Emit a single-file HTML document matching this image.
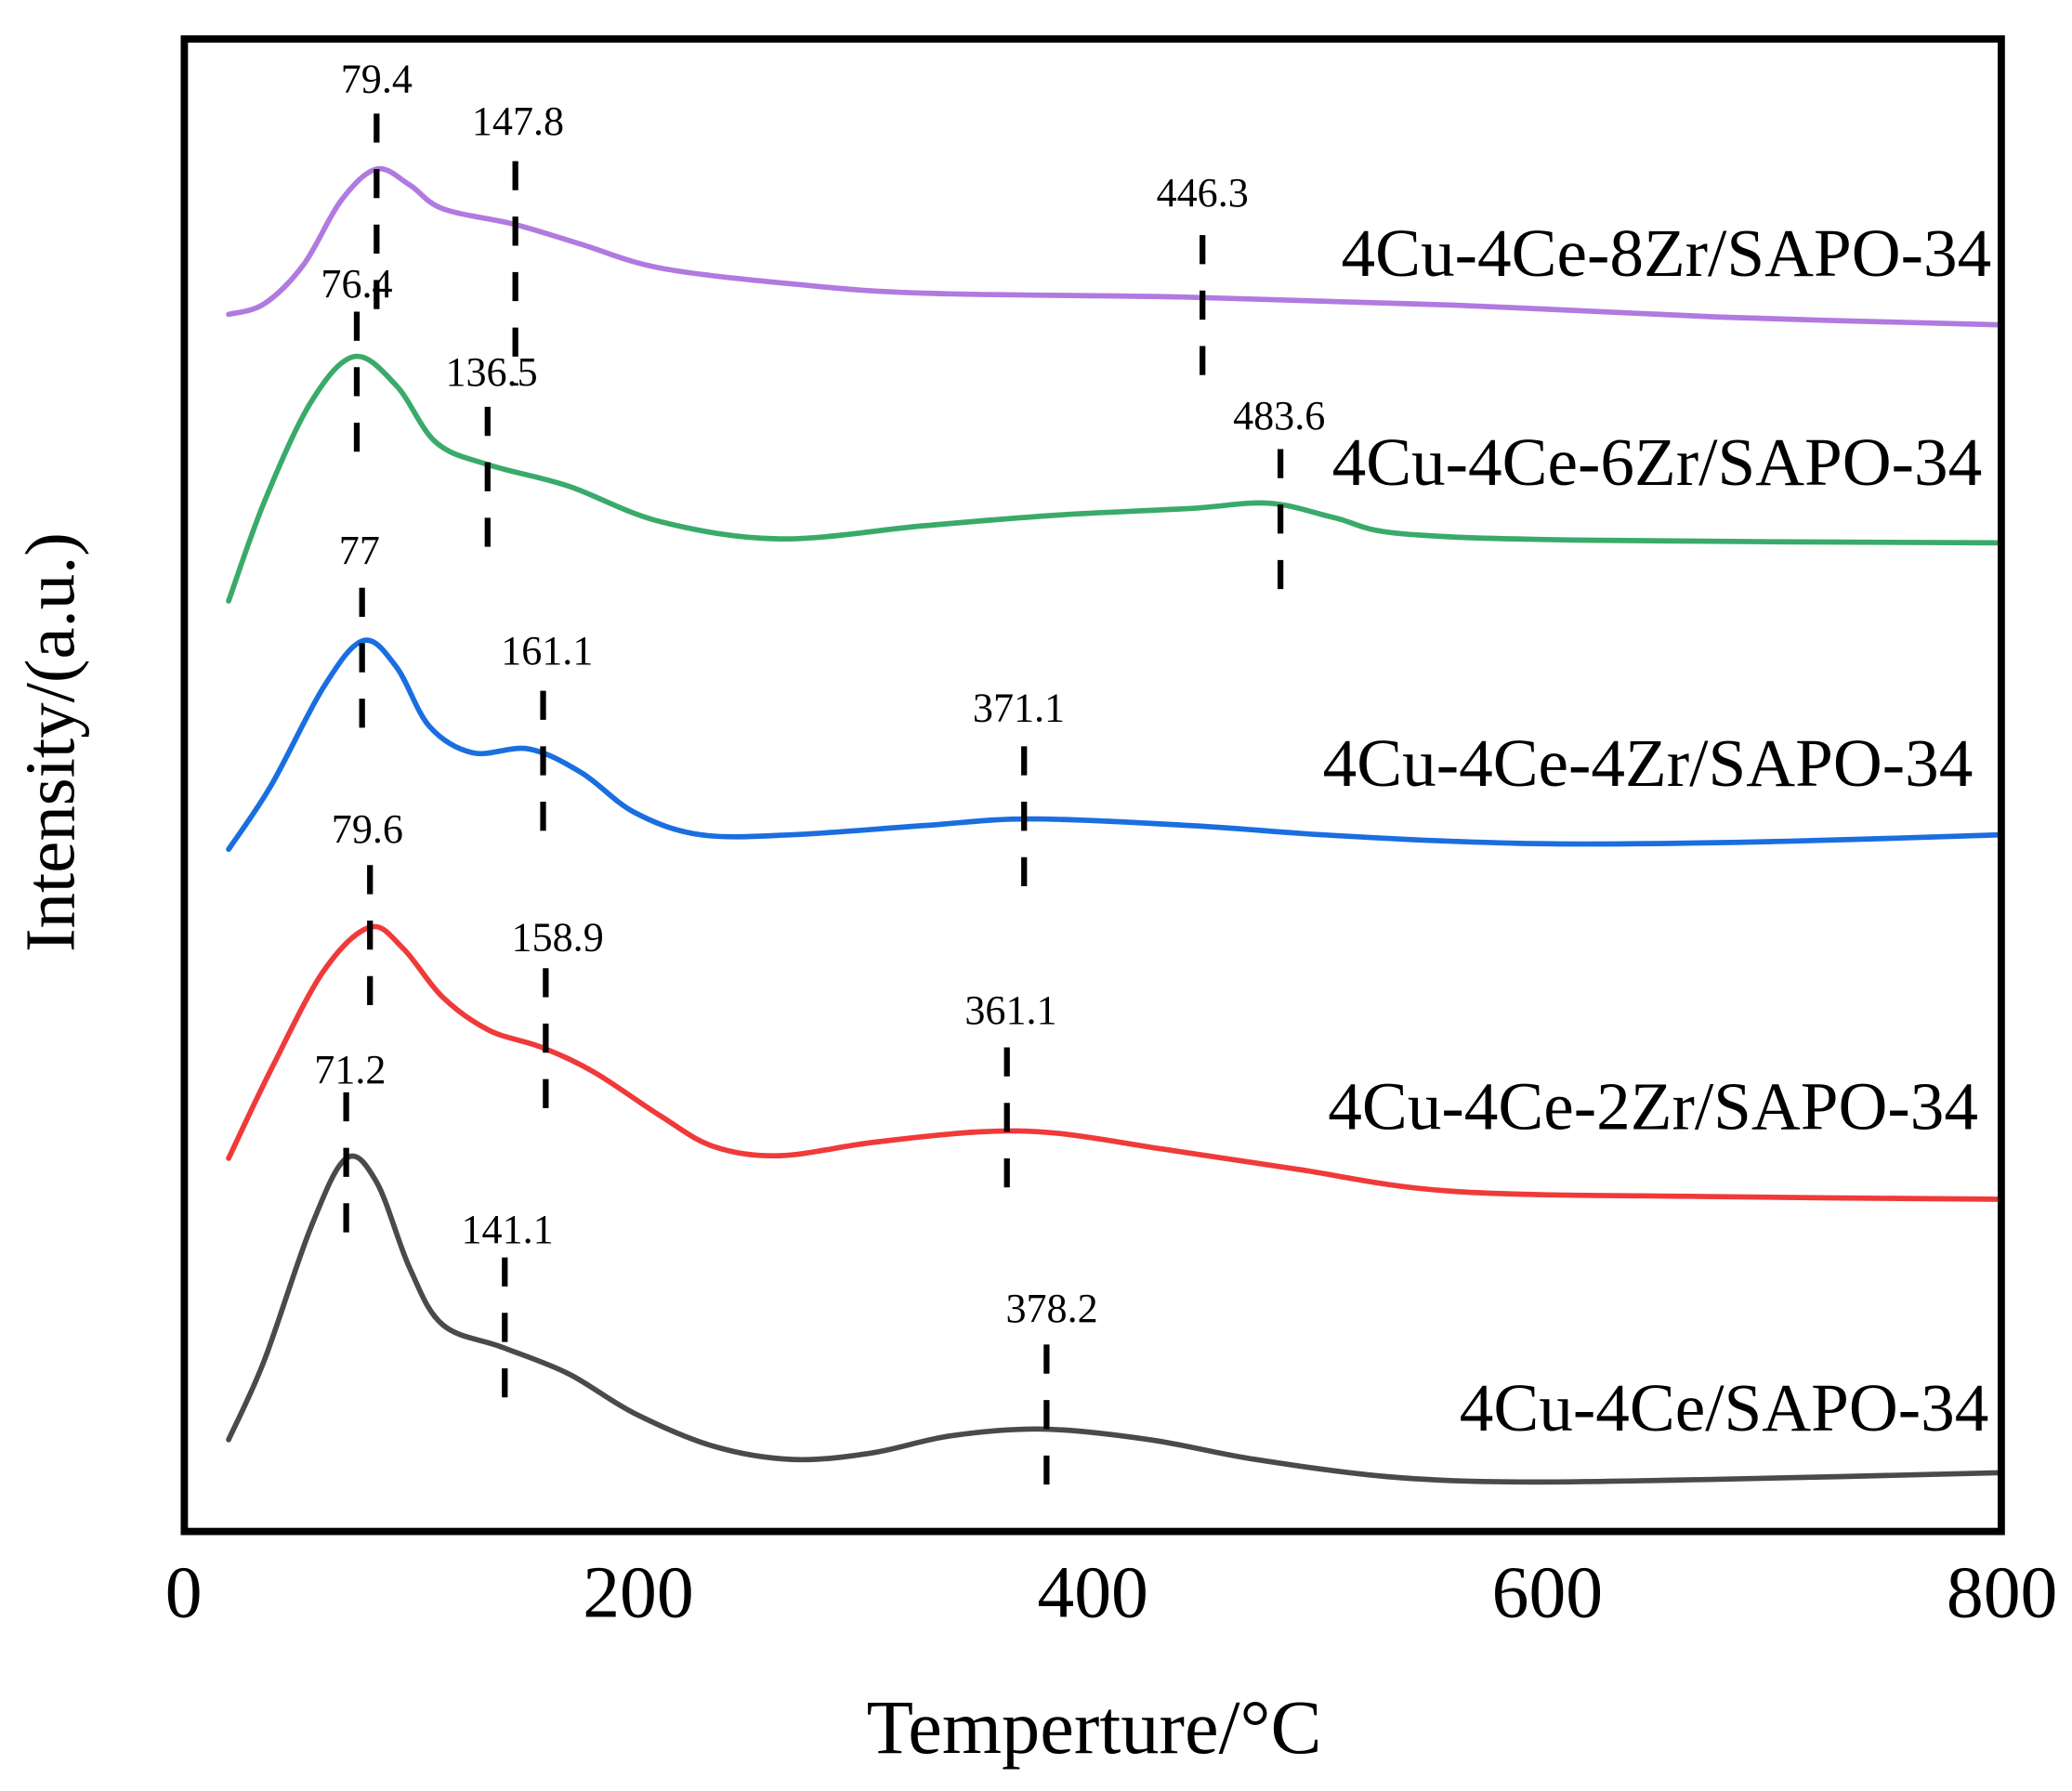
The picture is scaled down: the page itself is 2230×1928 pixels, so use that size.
<!DOCTYPE html>
<html><head><meta charset="utf-8"><style>
html,body{margin:0;padding:0;background:#fff}
svg{display:block}
text{font-family:"Liberation Serif",serif;fill:#000}
</style></head><body>
<svg id="s" width="2230" height="1928" viewBox="0 0 1568 1356" preserveAspectRatio="none" xmlns="http://www.w3.org/2000/svg">
<rect x="0" y="0" width="1568" height="1356" fill="#fff"/>
<g id="curves" fill="none" stroke-width="4" stroke-linecap="round" stroke-linejoin="round"></g>
<g id="dashes" stroke="#000" stroke-width="4.4" stroke-dasharray="22,20"></g>
<rect x="139.5" y="29.5" width="1375" height="1130" fill="none" stroke="#000" stroke-width="5.5"/>
<g font-size="31" text-anchor="middle">
<text x="285" y="70">79.4</text>
<text x="392" y="102">147.8</text>
<text x="910" y="156">446.3</text>
<text x="270" y="225">76.4</text>
<text x="372" y="292">136.5</text>
<text x="968" y="325">483.6</text>
<text x="272" y="427">77</text>
<text x="414" y="503">161.1</text>
<text x="771" y="546">371.1</text>
<text x="278" y="638">79.6</text>
<text x="422" y="720">158.9</text>
<text x="765" y="775">361.1</text>
<text x="265" y="820">71.2</text>
<text x="384" y="941">141.1</text>
<text x="796" y="1001">378.2</text>
</g>
<g font-size="51.5" text-anchor="end">
<text x="1507" y="209">4Cu-4Ce-8Zr/SAPO-34</text>
<text x="1500" y="367">4Cu-4Ce-6Zr/SAPO-34</text>
<text x="1493" y="595">4Cu-4Ce-4Zr/SAPO-34</text>
<text x="1497" y="855">4Cu-4Ce-2Zr/SAPO-34</text>
<text x="1505" y="1083">4Cu-4Ce/SAPO-34</text>
</g>
<g font-size="56" text-anchor="middle">
<text x="139" y="1224">0</text>
<text x="483" y="1224">200</text>
<text x="827" y="1224">400</text>
<text x="1171" y="1224">600</text>
<text x="1515" y="1224">800</text>
</g>
<text x="828" y="1327" font-size="58" text-anchor="middle">Temperture/°C</text>
<text transform="translate(56,562) rotate(-90)" font-size="54" text-anchor="middle">Intensity/(a.u.)</text>
</svg>
<script>
var series=[
["#b07ae0",[[173,238],[200,230],[230,200],[258,152],[285,128],[310,140],[335,158],[390,170],[440,185],[500,203],[600,215],[700,222],[900,225],[1100,231],[1300,240],[1515,246]]],
["#3aaa6a",[[173,455],[200,380],[235,305],[268,270],[300,292],[330,335],[370,352],[430,368],[500,395],[590,408],[700,398],[800,390],[900,385],[960,381],[1010,392],[1060,404],[1200,409],[1515,411]]],
["#1a6ee0",[[173,643],[205,595],[245,520],[275,485],[300,505],[325,550],[358,570],[400,567],[440,585],[480,615],[530,632],[600,632],[700,625],[780,620],[900,625],[1000,632],[1100,637],[1200,639],[1350,637],[1515,632]]],
["#f03a3a",[[173,877],[205,810],[245,735],[280,702],[305,718],[335,755],[370,780],[410,793],[450,812],[500,845],[540,868],[590,875],[660,865],[740,857],[800,858],[880,870],[980,885],[1100,902],[1300,906],[1515,908]]],
["#4a4a4a",[[173,1090],[200,1030],[235,930],[262,877],[285,895],[310,960],[335,1003],[380,1020],[430,1040],[480,1070],[540,1095],[600,1105],[660,1100],[720,1087],[790,1082],[870,1090],[950,1105],[1050,1118],[1150,1122],[1300,1120],[1515,1115]]]
];
function cr(p){var d="M"+p[0][0]+","+p[0][1];for(var i=0;i<p.length-1;i++){var p0=p[i-1]||p[i],p1=p[i],p2=p[i+1],p3=p[i+2]||p2;
d+=" C"+(p1[0]+(p2[0]-p0[0])/6)+","+(p1[1]+(p2[1]-p0[1])/6)+" "+(p2[0]-(p3[0]-p1[0])/6)+","+(p2[1]-(p3[1]-p1[1])/6)+" "+p2[0]+","+p2[1];}return d;}
var ns="http://www.w3.org/2000/svg",g=document.getElementById("curves");
series.forEach(function(s){var e=document.createElementNS(ns,"path");e.setAttribute("d",cr(s[1]));e.setAttribute("stroke",s[0]);g.appendChild(e);});
var dl=[[285,86,250],[390,122,292],[910,178,290],[270,236,350],[369,308,422],[969,340,455],[274,445,558],[411,523,637],[775,565,680],[280,655,768],[413,733,847],[762,793,905],[262,827,943],[382,952,1073],[792,1018,1130]];
var dg=document.getElementById("dashes");
dl.forEach(function(l){var e=document.createElementNS(ns,"line");e.setAttribute("x1",l[0]);e.setAttribute("x2",l[0]);e.setAttribute("y1",l[1]);e.setAttribute("y2",l[2]);dg.appendChild(e);});
</script>
</body></html>
